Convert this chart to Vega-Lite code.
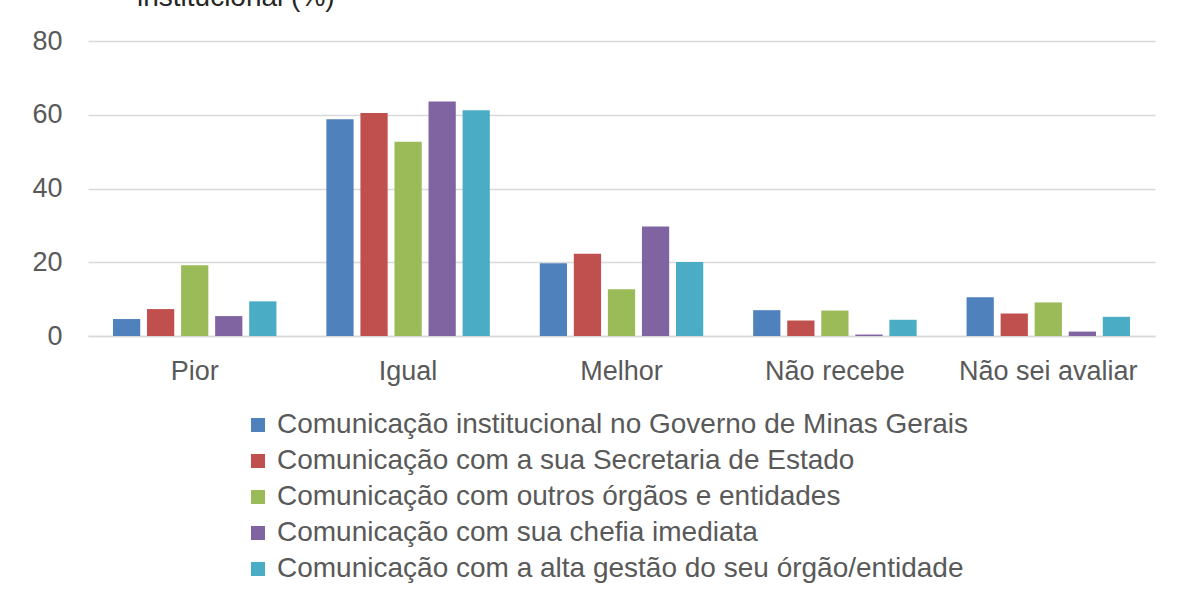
{
  "$schema": "https://vega.github.io/schema/vega-lite/v6.json",
  "autosize": "none",
  "width": 1067,
  "height": 295,
  "padding": {"left": 88, "top": 41, "right": 25, "bottom": 256},
  "background": "white",
  "title": {"text": "institucional (%)", "anchor": "start", "frame": "group", "fontSize": 28, "font": "Liberation Sans", "fontWeight": "normal", "color": "#262626", "dx": 49, "baseline": "alphabetic", "offset": 0, "dy": 7},
  "config": {
    "view": {"stroke": null},
    "font": "Liberation Sans"
  },
  "data": {"values": [
    {"cat": "Pior", "serie": "Comunicação institucional no Governo de Minas Gerais", "v": 4.6},
    {"cat": "Pior", "serie": "Comunicação com a sua Secretaria de Estado", "v": 7.3},
    {"cat": "Pior", "serie": "Comunicação com outros órgãos e entidades", "v": 19.2},
    {"cat": "Pior", "serie": "Comunicação com sua chefia imediata", "v": 5.4},
    {"cat": "Pior", "serie": "Comunicação com a alta gestão do seu órgão/entidade", "v": 9.4},
    {"cat": "Igual", "serie": "Comunicação institucional no Governo de Minas Gerais", "v": 58.8},
    {"cat": "Igual", "serie": "Comunicação com a sua Secretaria de Estado", "v": 60.5},
    {"cat": "Igual", "serie": "Comunicação com outros órgãos e entidades", "v": 52.7},
    {"cat": "Igual", "serie": "Comunicação com sua chefia imediata", "v": 63.6},
    {"cat": "Igual", "serie": "Comunicação com a alta gestão do seu órgão/entidade", "v": 61.2},
    {"cat": "Melhor", "serie": "Comunicação institucional no Governo de Minas Gerais", "v": 19.7},
    {"cat": "Melhor", "serie": "Comunicação com a sua Secretaria de Estado", "v": 22.3},
    {"cat": "Melhor", "serie": "Comunicação com outros órgãos e entidades", "v": 12.7},
    {"cat": "Melhor", "serie": "Comunicação com sua chefia imediata", "v": 29.7},
    {"cat": "Melhor", "serie": "Comunicação com a alta gestão do seu órgão/entidade", "v": 20.1},
    {"cat": "Não recebe", "serie": "Comunicação institucional no Governo de Minas Gerais", "v": 7.0},
    {"cat": "Não recebe", "serie": "Comunicação com a sua Secretaria de Estado", "v": 4.2},
    {"cat": "Não recebe", "serie": "Comunicação com outros órgãos e entidades", "v": 6.9},
    {"cat": "Não recebe", "serie": "Comunicação com sua chefia imediata", "v": 0.4},
    {"cat": "Não recebe", "serie": "Comunicação com a alta gestão do seu órgão/entidade", "v": 4.4},
    {"cat": "Não sei avaliar", "serie": "Comunicação institucional no Governo de Minas Gerais", "v": 10.5},
    {"cat": "Não sei avaliar", "serie": "Comunicação com a sua Secretaria de Estado", "v": 6.1},
    {"cat": "Não sei avaliar", "serie": "Comunicação com outros órgãos e entidades", "v": 9.1},
    {"cat": "Não sei avaliar", "serie": "Comunicação com sua chefia imediata", "v": 1.2},
    {"cat": "Não sei avaliar", "serie": "Comunicação com a alta gestão do seu órgão/entidade", "v": 5.2}
  ]},
  "mark": {"type": "bar"},
  "encoding": {
    "x": {
      "field": "cat", "type": "nominal", "sort": null,
      "scale": {"paddingInner": 0.234, "paddingOuter": 0.117},
      "axis": {"title": null, "labelAngle": 0, "ticks": false, "domain": true, "domainColor": "#d9d9d9", "domainWidth": 1.5, "labelFontSize": 27, "labelColor": "#595959", "labelPadding": 22, "labelFont": "Liberation Sans"}
    },
    "xOffset": {
      "field": "serie", "type": "nominal", "sort": null,
      "scale": {"paddingInner": 0.2}
    },
    "y": {
      "field": "v", "type": "quantitative",
      "scale": {"domain": [0, 80], "nice": false},
      "axis": {"title": null, "values": [0, 20, 40, 60, 80], "ticks": false, "domain": false, "gridColor": "#d9d9d9", "gridWidth": 1.5, "labelFontSize": 27, "labelColor": "#595959", "labelPadding": 26, "labelFont": "Liberation Sans"}
    },
    "color": {
      "field": "serie", "type": "nominal", "sort": null,
      "scale": {
        "domain": ["Comunicação institucional no Governo de Minas Gerais", "Comunicação com a sua Secretaria de Estado", "Comunicação com outros órgãos e entidades", "Comunicação com sua chefia imediata", "Comunicação com a alta gestão do seu órgão/entidade"],
        "range": ["#4F81BD", "#C0504D", "#9BBB59", "#8064A2", "#4BACC6"]
      },
      "legend": {
        "title": null, "orient": "none", "legendX": 156, "legendY": 370, "direction": "vertical",
        "symbolType": "square", "symbolSize": 196, "symbolStrokeWidth": 0, "symbolOpacity": 1,
        "labelFontSize": 28, "labelColor": "#595959", "labelFont": "Liberation Sans", "labelOffset": 5, "rowPadding": 8, "labelLimit": 1000
      }
    }
  }
}
